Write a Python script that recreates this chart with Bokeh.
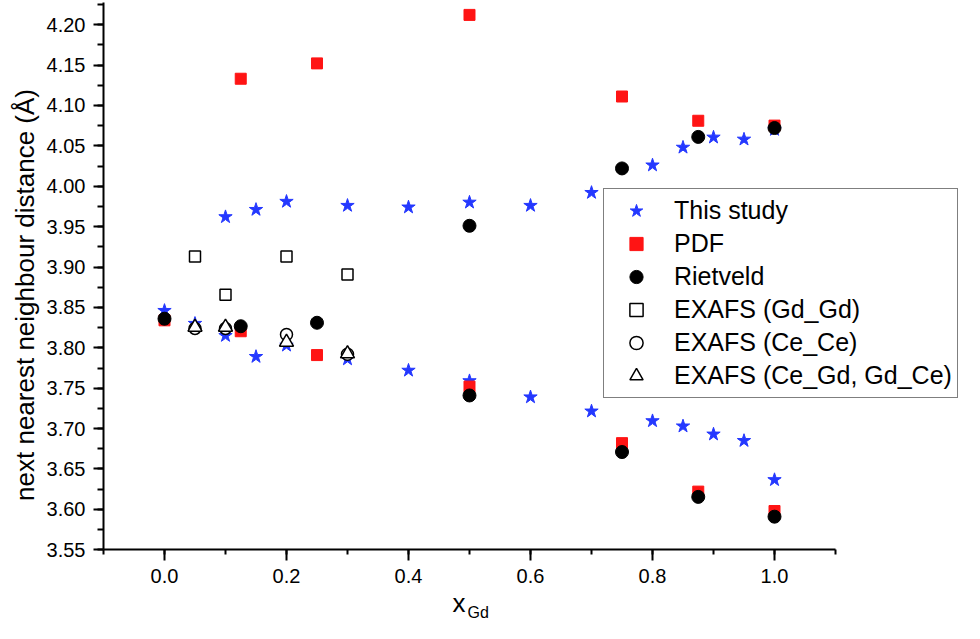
import math
from bokeh.plotting import figure
from bokeh.models import (Range1d, SingleIntervalTicker, PrintfTickFormatter,
                          Legend, LegendItem, Label)
from bokeh.embed import file_html
from bokeh.resources import INLINE

# ---- data ----
study_up_x = [0.1, 0.15, 0.2, 0.3, 0.4, 0.5, 0.6, 0.7, 0.8, 0.85, 0.9, 0.95, 1.0]
study_up_y = [3.962, 3.971, 3.981, 3.976, 3.974, 3.980, 3.976, 3.992, 4.026, 4.048, 4.0605, 4.058, 4.070]
study_lo_x = [0.0, 0.05, 0.1, 0.15, 0.2, 0.3, 0.4, 0.5, 0.6, 0.7, 0.8, 0.85, 0.9, 0.95, 1.0]
study_lo_y = [3.846, 3.830, 3.815, 3.789, 3.803, 3.786, 3.772, 3.759, 3.739, 3.7215, 3.7095, 3.703, 3.693, 3.685, 3.6366]

pdf_x = [0.0, 0.125, 0.125, 0.25, 0.25, 0.5, 0.5, 0.75, 0.75, 0.875, 0.875, 1.0, 1.0]
pdf_y = [3.834, 4.133, 3.8205, 4.152, 3.791, 4.212, 3.752, 4.111, 3.682, 4.081, 3.622, 4.075, 3.598]

riet_x = [0.0, 0.125, 0.25, 0.5, 0.5, 0.75, 0.75, 0.875, 0.875, 1.0, 1.0]
riet_y = [3.836, 3.8267, 3.831, 3.951, 3.741, 4.022, 3.671, 4.061, 3.6155, 4.072, 3.591]

exafs_gdgd_x = [0.05, 0.1, 0.2, 0.3]
exafs_gdgd_y = [3.913, 3.8656, 3.913, 3.8907]
exafs_cece_x = [0.05, 0.1, 0.2, 0.3]
exafs_cece_y = [3.824, 3.824, 3.8165, 3.792]
exafs_cegd_x = [0.05, 0.1, 0.2, 0.3]
exafs_cegd_y = [3.8255, 3.8255, 3.807, 3.7926]

legend_labels = ["This study", "PDF", "Rietveld", "EXAFS (Gd_Gd)",
                 "EXAFS (Ce_Ce)", "EXAFS (Ce_Gd, Gd_Ce)"]
y_label = "next nearest neighbour distance (\u00c5)"
x_label_main = "x"
x_label_sub = "Gd"

FONT = "Liberation Sans"
BLUE = "#2438ff"
RED = "#ff1414"

W, H = 964, 623
# frame fills the figure; axes are pinned at x=-0.1 / y=3.55 with bounds
p = figure(width=W, height=H, output_backend="svg", toolbar_location=None,
           x_range=Range1d(-0.268852, 1.311475),
           y_range=Range1d(3.458787, 4.229827),
           min_border_left=0, min_border_right=0, min_border_top=0,
           min_border_bottom=0)
p.outline_line_color = None
p.xgrid.visible = False
p.ygrid.visible = False
p.background_fill_color = "white"
p.border_fill_color = "white"

p.xaxis.fixed_location = 3.55
p.yaxis.fixed_location = -0.1
p.xaxis.bounds = (-0.1, 1.1)
p.yaxis.bounds = (3.55, 4.227)

p.xaxis.ticker = SingleIntervalTicker(interval=0.2, num_minor_ticks=2)
p.yaxis.ticker = SingleIntervalTicker(interval=0.05, num_minor_ticks=2)
p.xaxis.formatter = PrintfTickFormatter(format="%.1f")
p.yaxis.formatter = PrintfTickFormatter(format="%.2f")
for ax in (p.xaxis, p.yaxis):
    ax.axis_line_width = 2
    ax.axis_line_color = "black"
    ax.major_tick_line_width = 2
    ax.minor_tick_line_width = 2
    ax.major_tick_line_color = "black"
    ax.minor_tick_line_color = "black"
    ax.major_tick_in = 0
    ax.minor_tick_in = 0
    ax.major_label_text_font = FONT
    ax.major_label_text_font_size = "20px"
    ax.major_label_text_color = "black"
p.xaxis.major_tick_out = 11
p.xaxis.minor_tick_out = 5
p.yaxis.major_tick_out = 10
p.yaxis.minor_tick_out = 6
p.xaxis.major_label_standoff = 8
p.yaxis.major_label_standoff = 8

r_star_up = p.scatter(study_up_x, study_up_y, marker="star", size=14,
                      fill_color=BLUE, line_color=BLUE)
r_star_lo = p.scatter(study_lo_x, study_lo_y, marker="star", size=14,
                      fill_color=BLUE, line_color=BLUE)
r_pdf = p.scatter(pdf_x, pdf_y, marker="square", size=11,
                  fill_color=RED, line_color=RED)
r_riet = p.scatter(riet_x, riet_y, marker="circle", size=13,
                   fill_color="black", line_color="black")
r_gdgd = p.scatter(exafs_gdgd_x, exafs_gdgd_y, marker="square", size=11,
                   fill_color="white", line_color="black", line_width=1.5)
r_cece = p.scatter(exafs_cece_x, exafs_cece_y, marker="circle", size=12,
                   fill_color="white", line_color="black", line_width=1.5)
r_cegd = p.scatter(exafs_cegd_x, exafs_cegd_y, marker="triangle", size=14,
                   fill_color="white", line_color="black", line_width=1.5)

legend = Legend(items=[
    LegendItem(label=legend_labels[0], renderers=[r_star_up]),
    LegendItem(label=legend_labels[1], renderers=[r_pdf]),
    LegendItem(label=legend_labels[2], renderers=[r_riet]),
    LegendItem(label=legend_labels[3], renderers=[r_gdgd]),
    LegendItem(label=legend_labels[4], renderers=[r_cece]),
    LegendItem(label=legend_labels[5], renderers=[r_cegd]),
], location=(603, 225))
legend.label_text_font = FONT
legend.label_text_font_size = "25px"
legend.label_text_color = "black"
legend.glyph_width = 54
legend.glyph_height = 33
legend.label_height = 33
legend.spacing = 0
legend.padding = 5
legend.margin = 0
legend.label_standoff = 11
legend.border_line_color = "black"
legend.border_line_width = 1.5
legend.background_fill_color = "white"
legend.background_fill_alpha = 1.0
p.add_layout(legend)

p.add_layout(Label(x=-0.2279, y=3.8654, text=y_label, angle=math.pi / 2,
                   text_align="center", text_baseline="middle",
                   text_font=FONT, text_font_size="26px", text_color="black"))
p.add_layout(Label(x=0.4721, y=3.4846, text=x_label_main, text_align="left",
                   text_baseline="alphabetic", text_font=FONT,
                   text_font_size="26px", text_color="black"))
p.add_layout(Label(x=0.4967, y=3.4722, text=x_label_sub, text_align="left",
                   text_baseline="alphabetic", text_font=FONT,
                   text_font_size="16px", text_color="black"))

open("out.html", "w").write(file_html(p, INLINE))
